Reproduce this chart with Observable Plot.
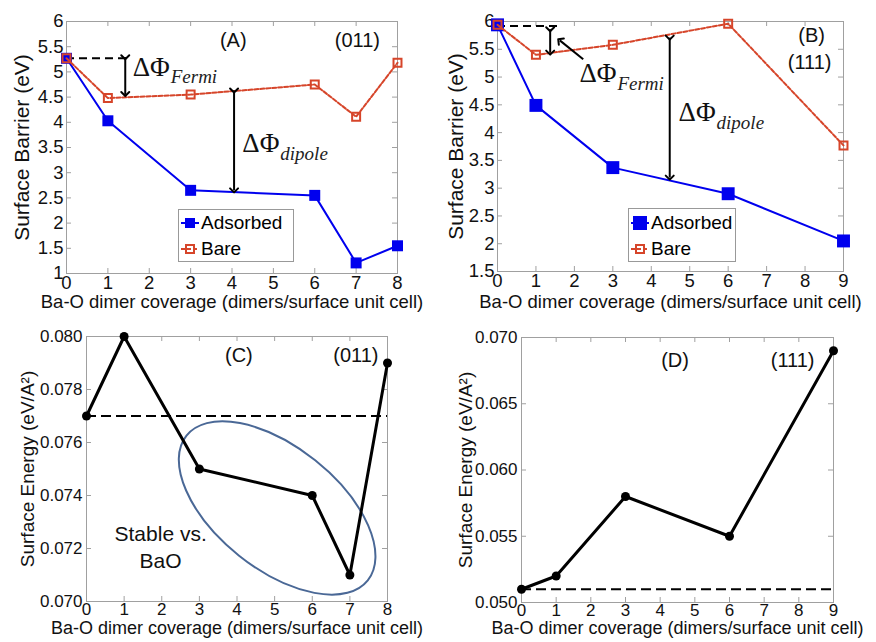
<!DOCTYPE html>
<html><head><meta charset="utf-8">
<script src="https://cdn.jsdelivr.net/npm/d3@7"></script>
<script src="https://cdn.jsdelivr.net/npm/@observablehq/plot@0.6"></script>
<style>
body{margin:0;background:#fff;}
#root{position:relative;width:876px;height:642px;overflow:hidden;background:#fff;font-family:"Liberation Sans",Arial,sans-serif;}
.panel{position:absolute;}
.legend{position:absolute;border:1px solid #999;background:#fff;box-sizing:border-box;font-size:19px;color:#000;}
.legend .row{display:flex;align-items:center;height:26px;}
.legend svg{display:block;}
</style></head><body><div id="root"></div>
<script>
// ---------- data ----------
const coverageA = [0, 1, 3, 6, 7, 8];
const adsorbedA = [5.27, 4.03, 2.65, 2.55, 1.21, 1.55];
const bareA     = [5.27, 4.48, 4.55, 4.75, 4.11, 5.18];

const coverageB = [0, 1, 3, 6, 9];
const adsorbedB = [5.94, 4.49, 3.37, 2.90, 2.05];
const bareB     = [5.94, 5.40, 5.58, 5.96, 3.77];

const coverageC = [0, 1, 3, 6, 7, 8];
const energyC   = [0.077, 0.080, 0.075, 0.074, 0.071, 0.079];
const refEnergyC = 0.077;

const coverageD = [0, 1, 3, 6, 9];
const energyD   = [0.051, 0.052, 0.058, 0.055, 0.069];
const refEnergyD = 0.051;

const xTicksA = [0,1,2,3,4,5,6,7,8];
const yTicksA = [1,1.5,2,2.5,3,3.5,4,4.5,5,5.5,6];
const xTicksB = [0,1,2,3,4,5,6,7,8,9];
const yTicksB = [1.5,2,2.5,3,3.5,4,4.5,5,5.5,6];
const yTicksC = [0.070,0.072,0.074,0.076,0.078,0.080];
const yTicksD = [0.050,0.055,0.060,0.065,0.070];

const xTitle = "Ba-O dimer coverage (dimers/surface unit cell)";
const seriesNames = ["Adsorbed", "Bare"];

// ---------- styles ----------
const BLUE = "#0000ee", RED = "#d6452a", GRID = "#a0a0a0";
const SANS = "Liberation Sans, Arial, sans-serif";
const SERIF = "Liberation Serif, Times New Roman, serif";

const root = document.getElementById("root");

function panel(o) {
  const m = o.m, fw = o.width - m.l - m.r, fh = o.height - m.t - m.b;
  const fmtX = d => String(d);
  const p = Plot.plot({
    width: o.width, height: o.height,
    marginLeft: m.l, marginRight: m.r, marginTop: m.t, marginBottom: m.b,
    style: {fontFamily: SANS, fontSize: o.tickFont + "px", color: "#000", background: "transparent", overflow: "visible"},
    x: {domain: o.xDomain},
    y: {domain: o.yDomain},
    marks: [
      Plot.frame({stroke: GRID}),
      Plot.tickX(o.xTicks, {x: d => d, insetTop: fh - 5, stroke: GRID}),
      Plot.tickX(o.xTicks, {x: d => d, insetBottom: fh - 5, stroke: GRID}),
      Plot.tickY(o.yTicks, {y: d => d, insetRight: fw - 5, stroke: GRID}),
      Plot.tickY(o.yTicks, {y: d => d, insetLeft: fw - 5, stroke: GRID}),
      Plot.axisX({ticks: o.xTicks, tickSize: 0, tickPadding: o.xPad, tickFormat: fmtX, label: null, fontSize: o.tickFont, fill: "#111"}),
      Plot.axisY({ticks: o.yTicks, tickSize: 0, tickPadding: o.yPad, tickFormat: o.yFormat, label: null, fontSize: o.tickFont, fill: "#111"}),
      Plot.text([xTitle], {text: d => d, frameAnchor: "bottom", dy: o.xTitleDy, fontSize: o.titleFont, fill: "#111"}),
      Plot.text([o.yTitle], {text: d => d, frameAnchor: "left", textAnchor: "middle", dx: o.yTitleDx, rotate: -90, fontSize: o.yTitleFont, fill: "#111"}),
      ...o.marks
    ]
  });
  p.classList.add("panel");
  p.style.left = o.left + "px";
  p.style.top = o.top + "px";
  root.appendChild(p);
}

function delta(x, y, sub) {
  return [
    Plot.text([{x, y}], {x: "x", y: "y", text: () => "ΔΦ", textAnchor: "start", fontFamily: SERIF, fontSize: 27, fill: "#111"}),
    Plot.text([{x, y}], {x: "x", y: "y", text: () => sub, textAnchor: "start", fontFamily: SERIF, fontStyle: "italic", fontSize: 19, dx: 38, dy: 10, fill: "#222"})
  ];
}

function ellipseMark(e) {
  return (index, scales) => {
    const el = document.createElementNS("http://www.w3.org/2000/svg", "ellipse");
    const X = scales.x(e.cx), Y = scales.y(e.cy);
    el.setAttribute("cx", X); el.setAttribute("cy", Y);
    el.setAttribute("rx", e.rx); el.setAttribute("ry", e.ry);
    el.setAttribute("transform", `rotate(${e.angle} ${X} ${Y})`);
    el.setAttribute("fill", "none");
    el.setAttribute("stroke", e.stroke);
    el.setAttribute("stroke-width", e.strokeWidth);
    return el;
  };
}

// ---------- panel A ----------
const dataA = coverageA.map((c, i) => ({c, ads: adsorbedA[i], bare: bareA[i]}));
panel({
  left: 0, top: 0, width: 438, height: 320, m: {l: 66, r: 41, t: 21, b: 47},
  xDomain: [0, 8], yDomain: [1, 6], xTicks: xTicksA, yTicks: yTicksA, yFormat: d => String(d),
  tickFont: 18.5, titleFont: 18.5, yTitleFont: 21, xPad: 2, yPad: 3, xTitleDy: 34, yTitleDx: -44,
  yTitle: "Surface Barrier (eV)",
  marks: [
    Plot.ruleY([{y: 5.27, x2: 1.45}], {y: "y", x1: 0, x2: "x2", stroke: "#000", strokeWidth: 2, strokeDasharray: "8,5"}),
    Plot.line(dataA, {x: "c", y: "ads", stroke: BLUE, strokeWidth: 2}),
    Plot.dot(dataA, {x: "c", y: "ads", symbol: "square", fill: BLUE, r: 6.2}),
    Plot.line(dataA, {x: "c", y: "bare", stroke: RED, strokeWidth: 2, strokeDasharray: "4,2"}),
    Plot.dot(dataA, {x: "c", y: "bare", symbol: "square", stroke: RED, strokeWidth: 2, fill: "none", r: 4.5}),
    Plot.link([{x: 1.42, y1: 5.29, y2: 4.56}], {x1: "x", x2: "x", y1: "y1", y2: "y2", stroke: "#000", strokeWidth: 2, markerStart: "arrow", markerEnd: "arrow"}),
    Plot.link([{x: 4.05, y1: 4.63, y2: 2.65}], {x1: "x", x2: "x", y1: "y1", y2: "y2", stroke: "#000", strokeWidth: 2, markerStart: "arrow", markerEnd: "arrow"}),
    ...delta(1.6, 5.1, "Fermi"),
    ...delta(4.25, 3.58, "dipole"),
    Plot.text([{x: 4.03, y: 5.62, t: "(A)"}, {x: 7.03, y: 5.62, t: "(011)"}], {x: "x", y: "y", text: "t", fontSize: 20, fill: "#111"})
  ]
});

// ---------- panel B ----------
const dataB = coverageB.map((c, i) => ({c, ads: adsorbedB[i], bare: bareB[i]}));
panel({
  left: 438, top: 0, width: 438, height: 320, m: {l: 59, r: 33, t: 21, b: 49},
  xDomain: [0, 9], yDomain: [1.5, 6], xTicks: xTicksB, yTicks: yTicksB, yFormat: d => String(d),
  tickFont: 18.5, titleFont: 18.5, yTitleFont: 21, xPad: 2, yPad: 3, xTitleDy: 36, yTitleDx: -41,
  yTitle: "Surface Barrier (eV)",
  marks: [
    Plot.ruleY([{y: 5.92, x2: 1.66}], {y: "y", x1: 0, x2: "x2", stroke: "#000", strokeWidth: 2, strokeDasharray: "8,5"}),
    Plot.line(dataB, {x: "c", y: "ads", stroke: BLUE, strokeWidth: 2}),
    Plot.dot(dataB, {x: "c", y: "ads", symbol: "square", fill: BLUE, r: 7.3}),
    Plot.line(dataB, {x: "c", y: "bare", stroke: RED, strokeWidth: 2, strokeDasharray: "4,2"}),
    Plot.dot(dataB, {x: "c", y: "bare", symbol: "square", stroke: RED, strokeWidth: 2, fill: "none", r: 4.5}),
    Plot.link([{x: 1.37, y1: 5.86, y2: 5.44}], {x1: "x", x2: "x", y1: "y1", y2: "y2", stroke: "#000", strokeWidth: 2, markerStart: "arrow", markerEnd: "arrow"}),
    Plot.link([{x1: 2.23, y1: 5.32, x2: 1.62, y2: 5.66}], {x1: "x1", x2: "x2", y1: "y1", y2: "y2", stroke: "#000", strokeWidth: 2, markerEnd: "arrow"}),
    Plot.link([{x: 4.48, y1: 5.71, y2: 3.19}], {x1: "x", x2: "x", y1: "y1", y2: "y2", stroke: "#000", strokeWidth: 2, markerStart: "arrow", markerEnd: "arrow"}),
    ...delta(2.13, 5.06, "Fermi"),
    ...delta(4.71, 4.36, "dipole"),
    Plot.text([{x: 8.17, y: 5.75, t: "(B)"}, {x: 8.12, y: 5.26, t: "(111)"}], {x: "x", y: "y", text: "t", fontSize: 20, fill: "#111"})
  ]
});

// ---------- panel C ----------
const dataC = coverageC.map((c, i) => ({c, e: energyC[i]}));
panel({
  left: 0, top: 320, width: 438, height: 322, m: {l: 86, r: 51, t: 16, b: 41},
  xDomain: [0, 8], yDomain: [0.070, 0.080], xTicks: xTicksA, yTicks: yTicksC, yFormat: d3.format(".3f"),
  tickFont: 17, titleFont: 18, yTitleFont: 19, xPad: 1, yPad: 4, xTitleDy: 32.5, yTitleDx: -59,
  yTitle: "Surface Energy (eV/A²)",
  marks: [
    Plot.ruleY([refEnergyC], {x1: 0, x2: 8, stroke: "#000", strokeWidth: 2.2, strokeDasharray: "10,5"}),
    ellipseMark({cx: 5.08, cy: 0.07351, rx: 116, ry: 61, angle: 38.6, stroke: "#4a6896", strokeWidth: 2}),
    Plot.line(dataC, {x: "c", y: "e", stroke: "#000", strokeWidth: 3}),
    Plot.dot(dataC, {x: "c", y: "e", fill: "#000", r: 4.5}),
    Plot.text([{x: 4.05, y: 0.07928, t: "(C)"}, {x: 7.16, y: 0.07928, t: "(011)"}], {x: "x", y: "y", text: "t", fontSize: 20, fill: "#111"}),
    Plot.text([{x: 1.97, y: 0.07255, t: "Stable vs."}, {x: 1.97, y: 0.07152, t: "BaO"}], {x: "x", y: "y", text: "t", fontSize: 21, fill: "#111"})
  ]
});

// ---------- panel D ----------
const dataD = coverageD.map((c, i) => ({c, e: energyD[i]}));
panel({
  left: 438, top: 320, width: 438, height: 322, m: {l: 83, r: 43, t: 17, b: 40},
  xDomain: [0, 9], yDomain: [0.050, 0.070], xTicks: xTicksB, yTicks: yTicksD, yFormat: d3.format(".3f"),
  tickFont: 17, titleFont: 18, yTitleFont: 19, xPad: 1, yPad: 4, xTitleDy: 31.5, yTitleDx: -56,
  yTitle: "Surface Energy (eV/A²)",
  marks: [
    Plot.ruleY([refEnergyD], {x1: 0, x2: 9, stroke: "#000", strokeWidth: 2.2, strokeDasharray: "10,5"}),
    Plot.line(dataD, {x: "c", y: "e", stroke: "#000", strokeWidth: 3}),
    Plot.dot(dataD, {x: "c", y: "e", fill: "#000", r: 4.5}),
    Plot.text([{x: 4.43, y: 0.06829, t: "(D)"}, {x: 7.82, y: 0.06829, t: "(111)"}], {x: "x", y: "y", text: "t", fontSize: 20, fill: "#111"})
  ]
});

// ---------- legends ----------
function legend(left, top, w, h, sq, padTop) {
  const div = document.createElement("div");
  div.className = "legend";
  Object.assign(div.style, {left: left + "px", top: top + "px", width: w + "px", height: h + "px", paddingTop: padTop + "px"});
  const sw = [
    `<svg width="22" height="20"><line x1="2" x2="20" y1="10" y2="10" stroke="${BLUE}" stroke-width="2"/><rect x="${11 - sq / 2}" y="${10 - sq / 2}" width="${sq}" height="${sq}" fill="${BLUE}"/></svg>`,
    `<svg width="22" height="20"><line x1="2" x2="20" y1="10" y2="10" stroke="${RED}" stroke-width="2" stroke-dasharray="4,2"/><rect x="7" y="6" width="8" height="8" fill="none" stroke="${RED}" stroke-width="2"/></svg>`
  ];
  seriesNames.forEach((n, i) => {
    const r = document.createElement("div");
    r.className = "row";
    r.innerHTML = sw[i] + `<span>${n}</span>`;
    div.appendChild(r);
  });
  root.appendChild(div);
}
legend(178, 209, 116, 53, 10, 0);
legend(628, 208, 108, 54, 14, 1);
</script>
</body></html>
